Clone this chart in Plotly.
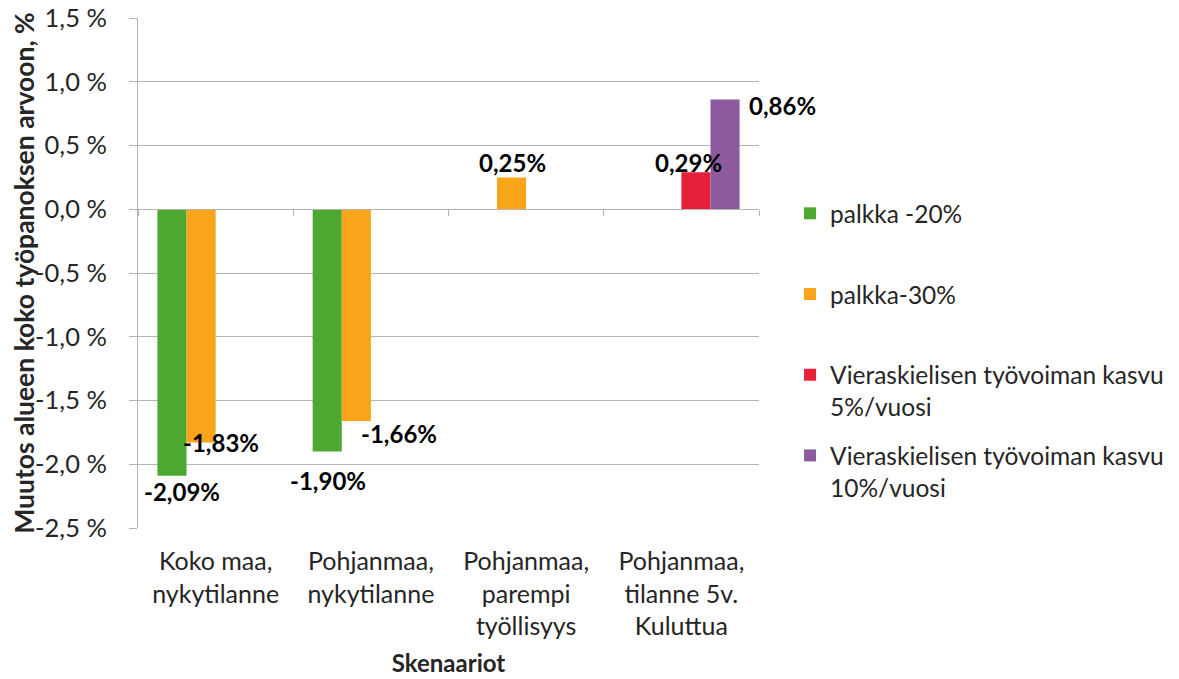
import plotly.graph_objects as go

categories = ["Koko maa,<br>nykytilanne", "Pohjanmaa,<br>nykytilanne",
              "Pohjanmaa,<br>parempi<br>työllisyys", "Pohjanmaa,<br>tilanne 5v.<br>Kuluttua"]
series_names = ["palkka -20%<br>\u00a0", "palkka-30%<br>\u00a0",
                "Vieraskielisen työvoiman kasvu<br>5%/vuosi",
                "Vieraskielisen työvoiman kasvu<br>10%/vuosi"]
palkka_20 = [-2.09, -1.90, None, None]
palkka_30 = [-1.83, -1.66, 0.25, None]
vieras_5 = [None, None, None, 0.29]
vieras_10 = [None, None, None, 0.86]
y_ticks = [-2.5, -2.0, -1.5, -1.0, -0.5, 0.0, 0.5, 1.0, 1.5]

colors = ["#4DA831", "#FAA519", "#E42139", "#8D5A9E"]
# label offsets in px (xshift, yshift) per series per category
label_shift = [
    [(-34, -16), (-43, -29), None, None],
    [(5, 0), (28, -13), (-14, 15), None],
    [None, None, None, (7, 10)],
    [None, None, None, (101, -6)],
]

FONT = "Lato, 'Open Sans', sans-serif"
TXT = "#262626"
GRID = "#B4B4B4"

fig = go.Figure()
all_series = [palkka_20, palkka_30, vieras_5, vieras_10]
for i, (name, vals) in enumerate(zip(series_names, all_series)):
    fig.add_bar(x=categories, y=vals, name=name, marker_color=colors[i],
                marker_line_width=0, legendgroup=str(i))

# dummy trace so the zero-level category axis gets drawn
fig.add_scatter(x=categories, y=[None] * 4, xaxis="x2", showlegend=False,
                hoverinfo="skip")

for i, vals in enumerate(all_series):
    for j, v in enumerate(vals):
        if v is None:
            continue
        dx, dy = label_shift[i][j]
        fig.add_annotation(x=categories[j], y=v, xref="x", yref="y",
                           text=f"{v:.2f}".replace(".", ",") + "%",
                           showarrow=False, xshift=dx, yshift=dy,
                           font=dict(size=24, color="#000000", family=FONT, weight="bold"))

cat_range = [-0.5, len(categories) - 0.5]

# page body has an 8px margin, so the figure is 8px smaller each way
fig.update_layout(
    width=1171, height=671,
    margin=dict(l=130, r=411, t=10, b=151),
    paper_bgcolor="white", plot_bgcolor="white",
    barmode="group", bargap=0.25, bargroupgap=0,
    font=dict(family=FONT, color=TXT, size=20),
    legend=dict(x=1.05, xanchor="left", y=0.661, yanchor="top",
                font=dict(size=24.5, color=TXT), valign="top",
                traceorder="grouped", tracegroupgap=14),
    xaxis=dict(range=cat_range, showgrid=False, showline=False, ticks="",
               tickfont=dict(size=25), automargin=False, ticklabelstandoff=16,
               title=dict(text="<b>Skenaariot</b>", font=dict(size=24), standoff=16)),
    xaxis2=dict(range=cat_range, overlaying="x", anchor="free", position=0.625,
                showline=True, linecolor=GRID, linewidth=1, ticks="outside",
                tickson="boundaries", ticklen=6, tickcolor=GRID,
                showticklabels=False, showgrid=False, automargin=False),
    yaxis=dict(range=[-2.5, 1.5], tickvals=y_ticks,
               ticktext=[f"{t:.1f} %".replace(".", ",") for t in y_ticks],
               showgrid=True, gridcolor=GRID, zeroline=False,
               showline=True, linecolor=GRID, ticks="outside", ticklen=8,
               tickcolor=GRID, tickfont=dict(size=25.5), ticklabelstandoff=17,
               ticklabeloverflow="allow", automargin=False,
               title=dict(text="<b>Muutos alueen koko työpanoksen arvoon, %</b>",
                          font=dict(size=26.5), standoff=4)),
)

fig.write_html("out.html")
